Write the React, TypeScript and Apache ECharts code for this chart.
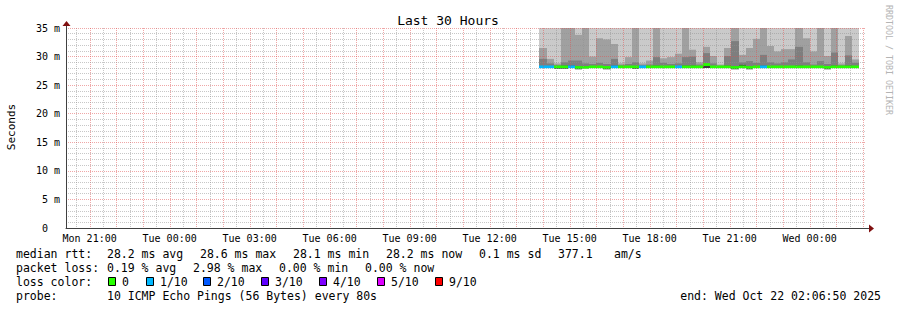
import React, { useEffect, useRef } from 'react';
import * as echarts from 'echarts';

// ---- time frame ----
const days = ['Mon', 'Tue', 'Wed'];
const chartStart = 'Mon 20:06:50';
const chartEnd = 'Wed 02:06:50';
const columnMinutes = 16;
const xLabelTimes = ['Mon 21:00', 'Tue 00:00', 'Tue 03:00', 'Tue 06:00', 'Tue 09:00', 'Tue 12:00', 'Tue 15:00', 'Tue 18:00', 'Tue 21:00', 'Wed 00:00'];
const yTickValues = [0, 5, 10, 15, 20, 25, 30, 35];

// ---- RRD columns (16 min consolidated steps) ----
const columnStarts = [
  'Tue 13:52', 'Tue 14:08', 'Tue 14:24', 'Tue 14:40', 'Tue 14:56', 'Tue 15:12', 'Tue 15:28', 'Tue 15:44',
  'Tue 16:00', 'Tue 16:16', 'Tue 16:32', 'Tue 16:48', 'Tue 17:04', 'Tue 17:20', 'Tue 17:36', 'Tue 17:52',
  'Tue 18:08', 'Tue 18:24', 'Tue 18:40', 'Tue 18:56', 'Tue 19:12', 'Tue 19:28', 'Tue 19:44', 'Tue 20:00',
  'Tue 20:16', 'Tue 20:32', 'Tue 20:48', 'Tue 21:04', 'Tue 21:20', 'Tue 21:36', 'Tue 21:52', 'Tue 22:08',
  'Tue 22:24', 'Tue 22:40', 'Tue 22:56', 'Tue 23:12', 'Tue 23:28', 'Tue 23:44', 'Wed 00:00', 'Wed 00:16',
  'Wed 00:32', 'Wed 00:48', 'Wed 01:04', 'Wed 01:20', 'Wed 01:36',
];
// lowest ping (ms)
const rttMin = [
  28.0, 28.0, 27.9, 27.9, 28.0, 27.8, 28.0, 28.0, 28.0, 27.8, 28.0, 28.0, 28.0, 27.9, 28.0, 28.0,
  28.0, 28.0, 28.0, 28.0, 28.0, 28.0, 28.0, 28.0, 28.0, 28.0, 28.0, 27.8, 28.0, 27.8, 28.0, 28.0,
  28.0, 28.0, 28.0, 28.0, 28.0, 28.0, 28.0, 28.0, 27.8, 28.0, 28.0, 28.0, 28.0,
];
// highest ping (ms) – above the 35 ms ceiling everywhere
const rttMax = [
  40, 40, 40, 40, 40, 40, 40, 40, 40, 40, 40, 40, 40, 40, 40, 40,
  40, 40, 40, 40, 40, 40, 40, 40, 40, 40, 40, 40, 40, 40, 40, 40,
  40, 40, 40, 40, 40, 40, 40, 40, 40, 40, 40, 40, 40,
];
// 9th of 10 sorted pings
const rttP8 = [
  31.5, 29.6, 28.8, 40, 40, 33.8, 40, 30.0, 33.2, 33.0, 32.2, 28.8, 29.9, 40, 28.8, 29.3,
  40, 29.7, 29.9, 30.5, 40, 31.2, 29.0, 31.7, 30.1, 28.6, 31.5, 40, 30.3, 31.5, 33.1, 40,
  31.85, 30.9, 31.3, 31.3, 40, 33.2, 30.9, 40, 30.1, 40, 28.8, 33.6, 29.5,
];
// 8th of 10 sorted pings
const rttP7 = [
  29.6, 28.8, 28.5, 29.0, 29.3, 29.3, 28.8, 28.7, 28.9, 28.7, 29.6, 28.5, 28.7, 29.0, 28.5, 28.6,
  29.9, 28.9, 28.7, 28.8, 29.9, 30.0, 28.6, 30.6, 28.8, 28.4, 30.1, 32.7, 29.0, 29.2, 28.9, 30.3,
  29.0, 28.8, 29.0, 29.5, 31.7, 29.0, 28.6, 29.2, 28.7, 30.7, 28.5, 30.2, 28.9,
];
// 6th of 10 sorted pings (innermost band)
const rttP6 = [
  28.3, 28.3, 28.3, 28.4, 28.4, 28.3, 28.3, 28.3, 28.3, 28.2, 28.4, 28.3, 28.3, 28.3, 28.3, 28.3,
  28.4, 28.3, 28.3, 28.3, 28.4, 28.4, 28.3, 28.5, 28.3, 28.3, 28.4, 28.3, 28.55, 28.3, 28.3, 28.4,
  28.3, 28.3, 28.3, 28.3, 28.4, 28.3, 28.3, 28.3, 28.2, 28.4, 28.3, 28.4, 28.3,
];
const medianRtt = [
  28.2, 28.2, 28.2, 28.2, 28.2, 28.1, 28.1, 28.2, 28.2, 28.1, 28.2, 28.2, 28.2, 28.2, 28.2, 28.2,
  28.2, 28.2, 28.2, 28.2, 28.2, 28.2, 28.2, 28.6, 28.2, 28.2, 28.2, 28.1, 28.2, 28.1, 28.2, 28.2,
  28.2, 28.2, 28.2, 28.2, 28.2, 28.2, 28.2, 28.2, 28.1, 28.2, 28.2, 28.2, 28.2,
];
// index into lossLabels / lossColors
const lossLevel = [
  1, 1, 0, 0, 1, 0, 0, 0, 0, 0, 1, 0, 0, 0, 1, 0,
  0, 0, 0, 1, 0, 0, 0, 0, 0, 0, 0, 0, 0, 0, 0, 1,
  0, 0, 0, 0, 0, 0, 0, 0, 0, 0, 0, 0, 0,
];

const lossLabels = ['0', '1/10', '2/10', '3/10', '4/10', '5/10', '9/10'];
const lossColors = ['#26ff00', '#00b8ff', '#0059ff', '#5e00ff', '#7e00ff', '#dd00ff', '#ff0000'];
const smokeColors = ['#cacaca', '#a0a0a0', '#7e7e7e', '#3c3c3c'];

const titleText = 'Last 30 Hours';
const yAxisTitle = 'Seconds';
const watermark = 'RRDTOOL / TOBI OETIKER';
const legendMedian = ['median rtt:', '28.2 ms avg', '28.6 ms max', '28.1 ms min', '28.2 ms now', '0.1 ms sd', '377.1', 'am/s'];
const legendLoss = ['packet loss:', '0.19 % avg', '2.98 % max', '0.00 % min', '0.00 % now'];
const legendColor = ['loss color:'];
const legendProbe = ['probe:', '10 ICMP Echo Pings (56 Bytes) every 80s'];
const endText = 'end: Wed Oct 22 02:06:50 2025';

const MONO = "'DejaVu Sans Mono', monospace";

function parseSlot(s: string): number {
  const [d, hm] = s.split(' ');
  const [h, m, sec] = hm.split(':').map(Number);
  return days.indexOf(d) * 24 + h + m / 60 + (sec || 0) / 3600;
}

export default function App() {
  const ref = useRef<HTMLDivElement>(null);

  useEffect(() => {
    document.body.style.margin = '0';
    if (!ref.current) return;
    const chart = echarts.init(ref.current, undefined, { renderer: 'svg' });

    const step = columnMinutes / 60;
    const smokeData = columnStarts.map((s, i) => {
      const t0 = parseSlot(s);
      return [t0, t0 + step, rttMin[i], rttMax[i], rttP8[i], rttP7[i], rttP6[i]];
    });
    const medianData = columnStarts.map((s, i) => {
      const t0 = parseSlot(s);
      return [t0, t0 + step, medianRtt[i], lossLevel[i]];
    });

    const xMin = parseSlot(chartStart);
    const xMax = parseSlot(chartEnd);
    const labelValues = xLabelTimes.map(parseSlot);

    const MAJOR = 'rgba(224,80,80,0.5)';
    const MINOR = 'rgba(144,144,144,0.5)';
    const majorStyle = { color: MAJOR, width: 1, type: [1, 1] as any };
    const minorStyle = { color: MINOR, width: 1, type: [1, 1] as any };

    // vertical grid: every hour (major = 1) and every half hour (minor = 0)
    const vGrid: number[][] = [];
    for (let h = Math.ceil(xMin * 2) / 2; h < xMax; h += 0.5) {
      vGrid.push([h, Math.abs(h - Math.round(h)) < 1e-9 ? 1 : 0]);
    }

    const graphics: any[] = [
      {
        type: 'text', x: 448, y: 20,
        style: { text: titleText, fontFamily: MONO, fontSize: 13, fill: '#000', align: 'center', verticalAlign: 'middle' },
      },
      {
        type: 'text', x: 11, y: 127, rotation: Math.PI / 2,
        style: { text: yAxisTitle, fontFamily: MONO, fontSize: 11, fill: '#000', align: 'center', verticalAlign: 'middle' },
      },
      {
        type: 'text', x: 889, y: 60, rotation: -Math.PI / 2,
        style: { text: watermark, fontFamily: MONO, fontSize: 8.3, fill: '#b4b4b4', align: 'center', verticalAlign: 'middle' },
      },
      // axis extensions + arrows
      { type: 'line', shape: { x1: 866, y1: 228.5, x2: 870, y2: 228.5 }, style: { stroke: '#404040', lineWidth: 1 }, z: 20 },
      { type: 'polygon', shape: { points: [[869, 224.5], [874, 228.5], [869, 232.5]] }, style: { fill: '#801010' }, z: 20 },
      { type: 'line', shape: { x1: 66.5, y1: 28, x2: 66.5, y2: 24 }, style: { stroke: '#404040', lineWidth: 1 }, z: 20 },
      { type: 'polygon', shape: { points: [[62.5, 26], [66.5, 21], [70.5, 26]] }, style: { fill: '#801010' }, z: 20 },
    ];

    const FS = 11.5;
    const textEl = (text: string, x: number, y: number, align = 'left') => ({
      type: 'text', x, y,
      style: { text, fontFamily: MONO, fontSize: FS, fill: '#000', verticalAlign: 'middle', align },
    });
    const rowY = [254, 268, 282, 296];
    const medianX = [16, 107, 200, 293, 386, 479, 558, 614];
    const lossX = [16, 107, 193, 279, 365];
    const probeX = [16, 107];
    legendMedian.forEach((t, i) => graphics.push(textEl(t, medianX[i], rowY[0])));
    legendLoss.forEach((t, i) => graphics.push(textEl(t, lossX[i], rowY[1])));
    legendColor.forEach((t) => graphics.push(textEl(t, 16, rowY[2])));
    legendProbe.forEach((t, i) => graphics.push(textEl(t, probeX[i], rowY[3])));
    graphics.push(textEl(endText, 881, rowY[3], 'right'));

    const boxX = [108, 146, 203, 261, 319, 377, 435];
    lossLabels.forEach((lab, i) => {
      graphics.push({
        type: 'rect', shape: { x: boxX[i] + 0.5, y: 277.5, width: 7, height: 8 },
        style: { fill: lossColors[i], stroke: '#000', lineWidth: 1 },
      });
      graphics.push(textEl(lab, boxX[i] + 14, rowY[2]));
    });

    const clipRect = (x0: number, x1: number, yTop: number, yBot: number, cs: any) => {
      const top = Math.max(yTop, cs.y);
      const bot = Math.min(yBot, cs.y + cs.height);
      if (bot <= top) return null;
      const xa = Math.round(x0);
      const xb = Math.round(x1);
      return { x: xa, y: top, width: xb - xa, height: bot - top };
    };

    chart.setOption({
      animation: false,
      backgroundColor: '#ffffff',
      grid: { left: 66, right: 31, top: 28, bottom: 82, containLabel: false },
      xAxis: {
        type: 'value',
        min: xMin,
        max: xMax,
        z: 10,
        axisLine: { show: true, lineStyle: { color: '#404040', width: 1 } },
        axisTick: { show: false },
        axisLabel: {
          show: true,
          customValues: labelValues,
          margin: 5,
          fontFamily: MONO,
          fontSize: 10,
          color: '#000',
          formatter: (v: number) => {
            const r = Math.round(v);
            return `${days[Math.floor(r / 24)]} ${String(r % 24).padStart(2, '0')}:00`;
          },
        },
        splitLine: { show: false },
        minorSplitLine: { show: false },
      },
      yAxis: {
        type: 'value',
        min: 0,
        max: 35,
        interval: 5,
        z: 10,
        axisLine: { show: true, lineStyle: { color: '#404040', width: 1 } },
        axisTick: { show: false },
        minorTick: { show: false, splitNumber: 5 },
        axisLabel: {
          margin: 6,
          customValues: yTickValues,
          fontFamily: MONO,
          fontSize: 10,
          color: '#000',
          formatter: (v: number) => (v === 0 ? '{z|0}' : `${v} m`),
          rich: { z: { fontFamily: MONO, fontSize: 10, color: '#000', padding: [0, 12, 0, 0] } },
        },
        splitLine: { show: true, showMinLine: false, lineStyle: majorStyle },
        minorSplitLine: { show: true, lineStyle: minorStyle },
      },
      graphic: graphics,
      series: [
        {
          type: 'custom',
          name: 'smoke',
          z: 1,
          data: smokeData,
          encode: { x: [0, 1], y: [2, 3] },
          renderItem: (params: any, api: any) => {
            const cs = params.coordSys;
            const t0 = api.value(0);
            const t1 = api.value(1);
            const lo = api.value(2);
            const children: any[] = [];
            for (let k = 0; k < 4; k++) {
              const hi = api.value(3 + k);
              const a = api.coord([t0, lo]);
              const b = api.coord([t1, hi]);
              const shape = clipRect(a[0], b[0], b[1], a[1], cs);
              if (shape) children.push({ type: 'rect', shape, style: { fill: smokeColors[k] } });
            }
            return { type: 'group', children };
          },
        },
        {
          type: 'custom',
          name: 'median',
          z: 2,
          data: medianData,
          encode: { x: [0, 1], y: 2 },
          renderItem: (params: any, api: any) => {
            const cs = params.coordSys;
            const t0 = api.value(0);
            const t1 = api.value(1);
            const med = api.value(2);
            const lv = api.value(3);
            const sw = 0.24;
            const a = api.coord([t0, med - sw]);
            const b = api.coord([t1, med + sw]);
            const shape = clipRect(a[0], b[0], b[1], a[1], cs);
            if (!shape) return null;
            return { type: 'rect', shape, style: { fill: lossColors[lv] } };
          },
        },
        {
          type: 'custom',
          name: 'vgrid',
          z: 5,
          silent: true,
          data: vGrid,
          encode: { x: 0 },
          renderItem: (params: any, api: any) => {
            const cs = params.coordSys;
            const t = api.value(0);
            const major = api.value(1) === 1;
            const x = Math.round(api.coord([t, 0])[0]) + 0.5;
            return {
              type: 'line',
              shape: { x1: x, y1: cs.y, x2: x, y2: cs.y + cs.height },
              style: { stroke: major ? MAJOR : MINOR, lineWidth: 1, lineDash: [1, 1] },
            };
          },
        },
      ],
    });

    return () => chart.dispose();
  }, []);

  return <div ref={ref} style={{ width: 897, height: 310 }} />;
}
